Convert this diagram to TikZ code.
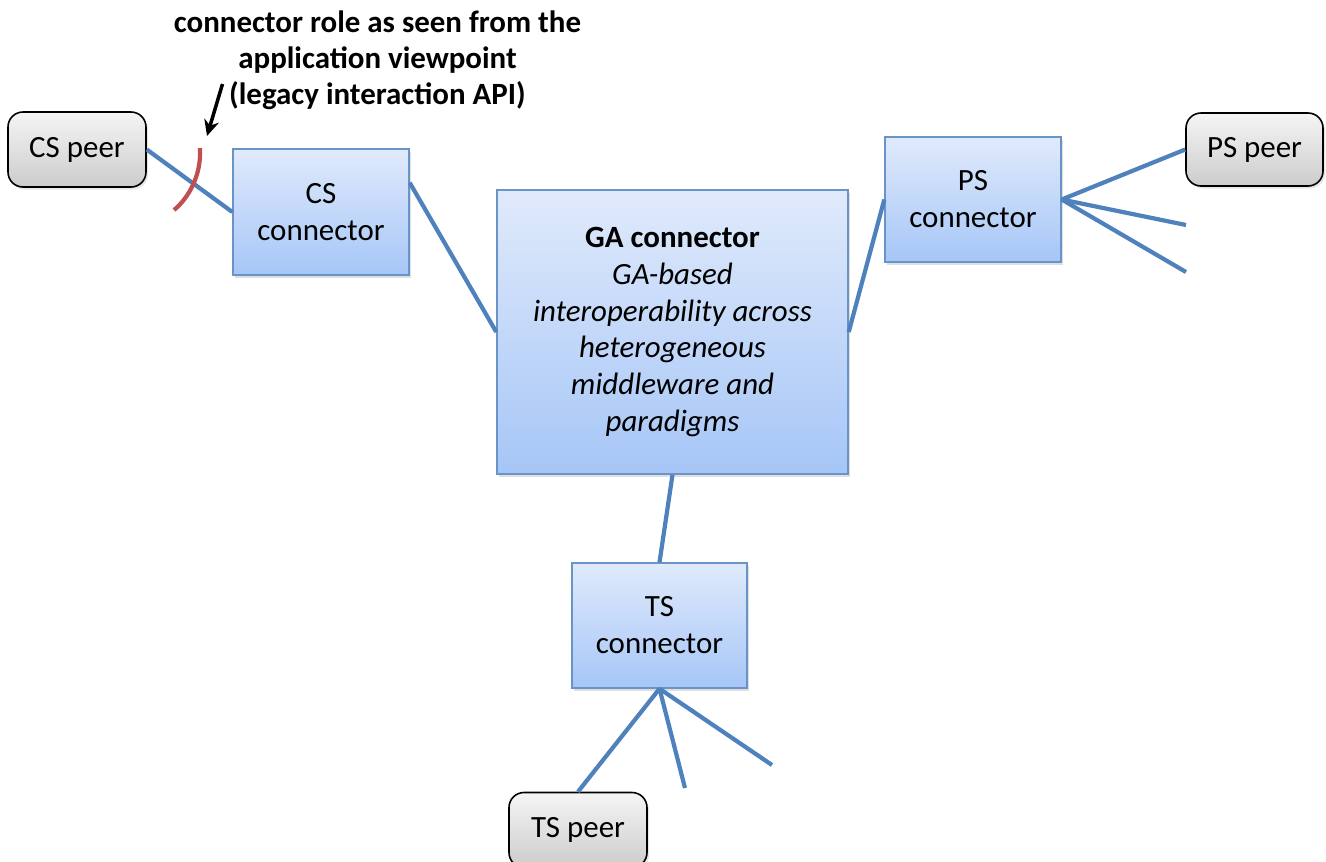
\documentclass[tikz,border=0pt]{standalone}
\usepackage{fontspec}
\setmainfont{Carlito}
\usetikzlibrary{positioning,calc,shadows,arrows.meta}

\definecolor{linkblue}{HTML}{4F81BD}
\definecolor{boxtop}{HTML}{E0EAFB}
\definecolor{boxbot}{HTML}{A6C6F7}
\definecolor{roleRed}{HTML}{C0504D}

\begin{document}
\begin{tikzpicture}[
    box/.style={draw=linkblue!85, line width=0.8pt, top color=boxtop, bottom color=boxbot,
      align=center, inner sep=2pt, font=\fontsize{17.6}{21}\selectfont,
      drop shadow={opacity=0.25, shadow xshift=0.04cm, shadow yshift=-0.05cm}},
    peer/.style={draw=black, line width=0.9pt, rounded corners=0.3cm, top color=gray!8,
      bottom color=gray!40, minimum width=2.76cm, minimum height=1.5cm,
      font=\fontsize{17.6}{21}\selectfont,
      drop shadow={opacity=0.2, shadow xshift=0.04cm, shadow yshift=-0.05cm}},
    link/.style={draw=linkblue, line width=2.4pt}
]
\useasboundingbox (0,0) rectangle (26.52,-17.22);

% Define node positions
\node[peer] (CSpeer) at (1.54,-2.99) {CS peer};
\node[box, minimum width=3.52cm, minimum height=2.52cm] (CS) at (6.42,-4.24) {CS\\connector};
\node[box, minimum width=7.02cm, minimum height=5.68cm] (GA) at (13.45,-6.64)
  {\textbf{GA connector}\\\textit{GA-based}\\\textit{interoperability across}\\\textit{heterogeneous}\\\textit{middleware and}\\\textit{paradigms}};
\node[box, minimum width=3.52cm, minimum height=2.5cm] (PS) at (19.46,-3.99) {PS\\connector};
\node[peer, minimum width=2.74cm, minimum height=1.46cm] (PSpeer) at (25.09,-2.99) {PS peer};
\node[box, minimum width=3.5cm, minimum height=2.5cm] (TS) at (13.19,-12.51) {TS\\connector};
\node[peer] (TSpeer) at (11.56,-16.6) {TS peer};

% Loose ends
\coordinate (PSend1) at (23.72,-4.5);
\coordinate (PSend2) at (23.72,-5.44);
\coordinate (TSend1) at (13.7,-15.76);
\coordinate (TSend2) at (15.44,-15.3);

% Links
\draw[link] (CSpeer.east) -- (CS.west);
\draw[link] ($(CS.north east)!0.27!(CS.south east)$) -- (GA.west);
\draw[link] (GA.east) -- (PS.west);
\draw[link] (GA.south) -- (TS.north);
\draw[link] (PS.east) -- (PSpeer.west);
\draw[link] (PS.east) -- (PSend1);
\draw[link] (PS.east) -- (PSend2);
\draw[link] (TS.south) -- (TSpeer.north);
\draw[link] (TS.south) -- (TSend1);
\draw[link] (TS.south) -- (TSend2);

% Connector role mark
\draw[roleRed, line width=2.4pt] (4.0,-2.96) .. controls (4.03,-3.5) and (3.78,-3.95) .. (3.48,-4.2);

% Role label with arrow
\node[font=\fontsize{17.6}{20.5}\selectfont\bfseries, align=center] (role) at (7.55,-1.2)
  {connector role as seen from the\\application viewpoint\\(legacy interaction API)};
\coordinate (roletip) at (4.14,-2.72);
\draw[-{Stealth[length=0.32cm,width=0.3cm]}, line width=2pt] (4.45,-1.68) -- (roletip);

\end{tikzpicture}
\end{document}
